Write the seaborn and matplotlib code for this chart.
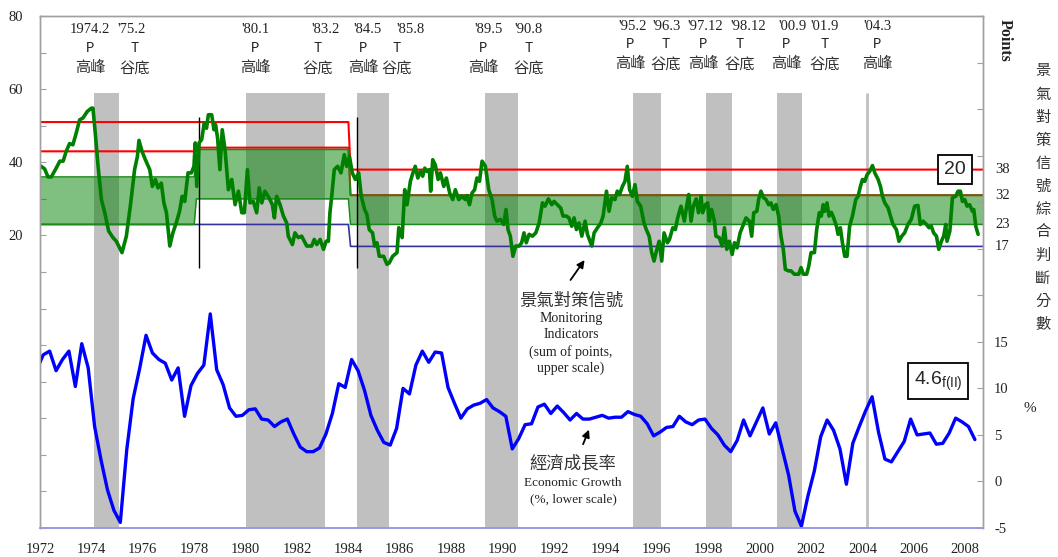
import numpy as np
import pandas as pd
import matplotlib
matplotlib.use("Agg")
import matplotlib.pyplot as plt
import matplotlib.transforms as mtransforms
import seaborn as sns

# ---------------- data ----------------
# Monitoring indicator (sum of points, upper/left scale): decimal year / value
mi_year = [
    1972.00, 1972.18, 1972.31, 1972.44, 1972.63, 1972.77, 1972.90, 1973.02, 1973.15, 1973.28,
    1973.41, 1973.54, 1973.67, 1973.84, 1974.00, 1974.06, 1974.15, 1974.26, 1974.39, 1974.52,
    1974.67, 1974.84, 1974.97, 1975.19, 1975.36, 1975.53, 1975.68, 1975.79, 1975.85, 1975.97,
    1976.10, 1976.27, 1976.37, 1976.49, 1976.59, 1976.72, 1976.82, 1976.92, 1977.05, 1977.17,
    1977.30, 1977.43, 1977.53, 1977.63, 1977.76, 1977.89, 1977.99, 1978.04, 1978.10, 1978.19,
    1978.29, 1978.39, 1978.48, 1978.55, 1978.68, 1978.77, 1978.83, 1978.91, 1979.00, 1979.09,
    1979.20, 1979.33, 1979.46, 1979.59, 1979.72, 1979.85, 1979.95, 1980.07, 1980.17, 1980.30,
    1980.43, 1980.53, 1980.63, 1980.75, 1980.91, 1981.04, 1981.12, 1981.21, 1981.34, 1981.47,
    1981.60, 1981.66, 1981.82, 1981.92, 1982.05, 1982.18, 1982.38, 1982.57, 1982.67, 1982.77,
    1982.90, 1983.03, 1983.13, 1983.22, 1983.28, 1983.35, 1983.45, 1983.58, 1983.71, 1983.84,
    1983.93, 1984.04, 1984.15, 1984.27, 1984.40, 1984.50, 1984.63, 1984.72, 1984.81, 1984.94,
    1985.02, 1985.11, 1985.20, 1985.37, 1985.50, 1985.59, 1985.72, 1985.89, 1985.96, 1986.09,
    1986.19, 1986.28, 1986.41, 1986.51, 1986.60, 1986.70, 1986.80, 1986.89, 1986.97, 1987.06,
    1987.15, 1987.20, 1987.28, 1987.38, 1987.49, 1987.58, 1987.71, 1987.81, 1987.94, 1988.06,
    1988.16, 1988.29, 1988.42, 1988.55, 1988.61, 1988.71, 1988.81, 1988.91, 1989.00, 1989.10,
    1989.20, 1989.33, 1989.46, 1989.59, 1989.69, 1989.78, 1989.91, 1990.04, 1990.13, 1990.21,
    1990.30, 1990.40, 1990.51, 1990.64, 1990.74, 1990.83, 1990.92, 1991.03, 1991.16, 1991.29,
    1991.42, 1991.55, 1991.65, 1991.78, 1991.91, 1992.00, 1992.13, 1992.26, 1992.35, 1992.48,
    1992.58, 1992.69, 1992.78, 1992.87, 1992.97, 1993.08, 1993.21, 1993.30, 1993.47, 1993.56,
    1993.69, 1993.82, 1993.91, 1994.04, 1994.14, 1994.24, 1994.37, 1994.46, 1994.55, 1994.66,
    1994.76, 1994.85, 1994.94, 1995.05, 1995.15, 1995.24, 1995.37, 1995.50, 1995.59, 1995.70,
    1995.80, 1995.89, 1996.00, 1996.09, 1996.19, 1996.28, 1996.41, 1996.49, 1996.62, 1996.72,
    1996.81, 1996.94, 1997.07, 1997.16, 1997.24, 1997.33, 1997.42, 1997.53, 1997.62, 1997.72,
    1997.78, 1997.89, 1997.98, 1998.04, 1998.13, 1998.24, 1998.30, 1998.43, 1998.54, 1998.63,
    1998.72, 1998.82, 1998.93, 1999.02, 1999.12, 1999.24, 1999.34, 1999.47, 1999.60, 1999.69,
    1999.77, 1999.89, 1999.96, 2000.05, 2000.15, 2000.25, 2000.35, 2000.44, 2000.53, 2000.64,
    2000.74, 2000.83, 2000.92, 2001.00, 2001.13, 2001.22, 2001.35, 2001.52, 2001.61, 2001.70,
    2001.83, 2001.91, 2002.00, 2002.13, 2002.22, 2002.32, 2002.40, 2002.47, 2002.53, 2002.62,
    2002.70, 2002.79, 2002.88, 2002.99, 2003.05, 2003.14, 2003.22, 2003.31, 2003.40, 2003.50,
    2003.61, 2003.74, 2003.83, 2003.92, 2004.00, 2004.09, 2004.18, 2004.28, 2004.39, 2004.48,
    2004.61, 2004.70, 2004.78, 2004.87, 2005.00, 2005.09, 2005.19, 2005.32, 2005.42, 2005.53,
    2005.64, 2005.77, 2005.90, 2006.03, 2006.16, 2006.25, 2006.36, 2006.49, 2006.59, 2006.68,
    2006.77, 2006.88, 2006.97, 2007.07, 2007.16, 2007.24, 2007.29, 2007.40, 2007.50, 2007.63,
    2007.72, 2007.81, 2007.89, 2007.98, 2008.07, 2008.17, 2008.28, 2008.33, 2008.41, 2008.50,
]
mi_value = [
    39.1, 38.2, 36.0, 36.0, 38.4, 40.3, 40.3, 43.0, 45.1, 44.8,
    48.0, 51.6, 52.1, 53.9, 54.8, 54.8, 48.0, 38.9, 29.8, 26.2,
    21.2, 19.4, 18.4, 15.3, 19.8, 28.9, 38.0, 41.6, 46.0, 43.0,
    40.7, 38.0, 33.4, 35.3, 33.0, 34.3, 28.9, 26.2, 17.1, 20.7,
    23.4, 26.6, 30.7, 29.3, 37.1, 37.1, 38.9, 45.3, 33.4, 45.3,
    46.2, 50.7, 49.3, 53.0, 53.0, 48.9, 50.3, 46.6, 38.0, 48.9,
    43.4, 32.5, 35.3, 28.4, 32.1, 26.2, 26.2, 38.0, 28.9, 29.3,
    26.2, 33.0, 28.9, 32.1, 30.3, 28.4, 24.8, 30.7, 28.4, 25.3,
    23.4, 19.8, 17.5, 20.7, 19.4, 19.8, 17.1, 17.1, 18.9, 17.5,
    18.9, 16.2, 18.4, 18.4, 26.2, 30.7, 38.0, 38.9, 37.1, 42.1,
    38.9, 41.6, 37.1, 35.3, 37.1, 30.7, 27.1, 25.7, 21.6, 20.7,
    17.1, 18.0, 14.3, 14.3, 12.1, 12.5, 14.3, 15.3, 22.1, 19.4,
    32.5, 28.4, 34.8, 37.1, 38.9, 35.7, 37.5, 36.2, 38.4, 37.5,
    38.0, 32.1, 40.7, 39.3, 35.3, 37.1, 33.4, 35.7, 31.6, 29.8,
    32.5, 29.8, 30.7, 29.8, 30.9, 28.4, 31.6, 32.5, 35.7, 34.8,
    40.3, 38.9, 32.5, 29.8, 25.3, 23.9, 24.4, 23.0, 27.1, 21.6,
    19.8, 14.3, 17.1, 17.1, 18.0, 20.7, 18.0, 20.3, 19.8, 20.7,
    23.4, 28.9, 28.0, 30.0, 28.4, 29.3, 28.4, 27.5, 25.3, 25.3,
    24.8, 22.5, 24.8, 21.6, 23.4, 19.8, 23.9, 20.3, 17.1, 20.7,
    22.1, 23.4, 25.3, 32.1, 26.6, 30.3, 29.8, 32.1, 31.2, 33.4,
    34.8, 38.9, 32.5, 30.7, 33.9, 29.3, 28.0, 23.4, 21.6, 19.8,
    15.3, 13.0, 16.2, 18.4, 13.0, 20.7, 18.0, 18.9, 22.1, 21.6,
    24.8, 28.0, 23.9, 28.0, 31.2, 23.9, 28.0, 30.0, 26.2, 30.7,
    26.2, 28.4, 28.9, 23.9, 27.1, 23.9, 19.8, 19.4, 17.1, 22.1,
    16.2, 18.4, 14.8, 18.0, 16.6, 20.7, 22.5, 24.8, 23.9, 19.8,
    26.2, 26.6, 29.8, 32.1, 30.3, 29.8, 28.4, 28.9, 27.1, 28.4,
    25.3, 19.8, 16.2, 10.7, 10.3, 10.3, 9.4, 9.4, 11.2, 9.4,
    9.4, 11.6, 15.3, 15.3, 21.6, 26.2, 25.3, 28.4, 26.6, 28.9,
    25.3, 26.3, 24.8, 22.5, 20.3, 22.1, 18.0, 14.3, 14.3, 22.5,
    25.3, 29.8, 30.7, 33.4, 35.3, 34.8, 36.6, 37.5, 39.1, 37.1,
    35.3, 33.4, 30.7, 28.9, 27.5, 25.3, 23.0, 21.6, 18.4, 19.8,
    20.7, 23.0, 24.4, 28.0, 28.2, 23.0, 23.9, 23.0, 22.1, 22.5,
    20.7, 19.8, 16.2, 18.4, 19.8, 23.0, 18.4, 21.2, 30.3, 30.7,
    32.1, 32.1, 29.3, 29.8, 28.0, 28.4, 26.6, 27.1, 22.5, 20.3,
]

# Quarterly economic growth (%, lower/right scale); first entry = 1971 Q4 (chart edge)
gdp_first_quarter = 1971.875
gdp_growth = [
    12.0,
    13.6, 14.0, 11.9, 13.1,   # 1972
    14.0, 10.2, 14.8, 12.2,   # 1973
    5.9, 2.3, -0.9, -3.1,     # 1974
    -4.4, 3.4, 8.9, 12.1,     # 1975
    15.7, 13.8, 13.1, 12.7,   # 1976
    10.9, 12.2, 7.0, 10.3,    # 1977
    11.6, 12.5, 18.0, 12.0,   # 1978
    10.4, 7.9, 7.0, 7.1,      # 1979
    7.7, 7.8, 6.7, 6.6,       # 1980
    5.9, 6.4, 6.7, 5.1,       # 1981
    3.7, 3.2, 3.2, 3.6,       # 1982
    5.1, 7.3, 10.5, 10.1,     # 1983
    13.1, 11.9, 9.8, 7.1,     # 1984
    5.5, 4.2, 3.9, 5.7,       # 1985
    10.0, 9.4, 12.5, 14.0,    # 1986
    12.8, 13.9, 13.8, 10.1,   # 1987
    8.4, 6.8, 7.8, 8.2,       # 1988
    8.4, 8.8, 7.9, 7.5,       # 1989
    7.0, 3.5, 4.6, 6.1,       # 1990
    6.2, 8.0, 8.3, 7.3,       # 1991
    8.1, 7.4, 6.6, 7.3,       # 1992
    6.7, 6.7, 6.9, 7.1,       # 1993
    6.8, 6.9, 6.9, 7.5,       # 1994
    7.2, 7.0, 6.2, 4.9,       # 1995
    5.3, 5.8, 5.9, 7.0,       # 1996
    6.4, 6.1, 6.6, 6.7,       # 1997
    5.7, 5.0, 3.9, 3.2,       # 1998
    4.4, 6.6, 4.9, 6.4,       # 1999
    7.9, 5.1, 6.3, 3.5,       # 2000
    0.7, -3.2, -4.8, -1.6,    # 2001
    1.1, 4.8, 6.6, 5.5,       # 2002
    3.5, -0.3, 4.1, 5.9,      # 2003
    7.6, 9.1, 5.3, 2.4,       # 2004
    2.1, 3.2, 4.3, 6.7,       # 2005
    5.0, 5.1, 5.2, 4.0,       # 2006
    4.1, 5.2, 6.8, 6.4,       # 2007
    5.9, 4.5,                 # 2008
]

# Business-cycle reference dates (decimal year)
cycle_peaks = [1974.083, 1980.000, 1984.333, 1989.333, 1995.083, 1997.917, 2000.667]
cycle_troughs = [1975.083, 1983.083, 1985.583, 1990.583, 1996.167, 1998.917, 2001.667]
latest_peak = 2004.167
turn_labels = ["1974.2", "'75.2", "'80.1", "'83.2", "'84.5", "'85.8", "'89.5", "'90.8",
               "'95.2", "'96.3", "'97.12", "'98.12", "'00.9", "'01.9", "'04.3"]
turn_kinds = ["P", "T", "P", "T", "P", "T", "P", "T", "P", "T", "P", "T", "P", "T", "P"]
kind_names = {"P": "高峰", "T": "谷底"}

# Signal threshold regimes
regime_start = [1972.0, 1978.0, 1984.0]
red_upper = [51, 51, 38]
red_lower = [43, 44, 31]
green_upper = [36, 43.5, 31]
green_lower = [23, 30, 23]
blue_line = [23, 23, 17]
revision_marks = [1978.2, 1984.33]
threshold_labels = ["38", "32", "23", "17"]
latest_score = "20"
latest_growth = "4.6"

# ---------------- layout constants ----------------
X_END = 2008.69
W, H = 1058, 557
date_x = [1973.95, 1975.58, 1980.37, 1983.09, 1984.76, 1986.40, 1989.47, 1990.99,
          1995.04, 1996.36, 1997.88, 1999.55, 2001.26, 2002.54, 2004.57]
kind_x = [1973.95, 1975.70, 1980.37, 1982.82, 1984.57, 1985.89, 1989.24, 1991.03,
          1994.96, 1996.36, 1997.80, 1999.24, 2001.03, 2002.54, 2004.57]

sns.set_style("white")
plt.rcParams["font.family"] = ["Liberation Serif", "Noto Sans CJK TC", "DejaVu Sans"]
SERIF = ["Liberation Serif", "DejaVu Serif"]
CJK = ["Noto Sans CJK TC", "DejaVu Sans"]

fig = plt.figure(figsize=(W / 100, H / 100), dpi=100)
ax = fig.add_axes([40 / W, 1 - 528 / H, (983 - 40) / W, (528 - 16) / H])
ax2 = ax.twinx()

# grey recession bands
band_top = (59 + 60) / 140
for p, t in zip(cycle_peaks, cycle_troughs):
    ax.axvspan(p, t, ymin=0, ymax=band_top, color="#c0c0c0", lw=0, zorder=0.5)
ax.vlines(latest_peak, -60, 59, color="#c0c0c0", lw=2, zorder=0.5)


def steps(vals):
    xs, ys = [], []
    for i, v in enumerate(vals):
        s = regime_start[i] + (1 / 12 if i > 0 else 0)
        e = regime_start[i + 1] if i + 1 < len(vals) else X_END
        xs += [s, e]
        ys += [v, v]
    return np.array(xs), np.array(ys)


xr, yr_hi = steps(red_upper)
_, yr_lo = steps(red_lower)
_, yg_hi = steps(green_upper)
_, yg_lo = steps(green_lower)
_, yb = steps(blue_line)

ax.plot(xr, yr_hi, color="#ff0000", lw=1.5, zorder=1)
ax.plot(xr, yr_lo, color="#ff0000", lw=1.5, zorder=1)
ax.plot(xr, yb, color="#333399", lw=1.2, zorder=1)
ax.fill_between(xr, yg_lo, yg_hi, color="#008000", alpha=0.5, lw=0, zorder=2)
ax.plot(xr, yg_hi, color="#1a8a1a", lw=1.1, zorder=2.1)
ax.plot(xr, yg_lo, color="#1a8a1a", lw=1.1, zorder=2.1)
ax.vlines(revision_marks, 11, 52.5, color="black", lw=1.0, zorder=2.5)

# monitoring indicator line
mi_df = pd.DataFrame({"year": mi_year, "points": mi_value})
sns.lineplot(data=mi_df, x="year", y="points", ax=ax, color="#008000", lw=2.6,
             estimator=None, sort=False, legend=False, zorder=3,
             solid_joinstyle="round")

# economic growth line
gdp_df = pd.DataFrame({"year": gdp_first_quarter + 0.25 * np.arange(len(gdp_growth)),
                       "growth": gdp_growth})
sns.lineplot(data=gdp_df, x="year", y="growth", ax=ax2, color="#0000ff", lw=2.4,
             estimator=None, sort=False, legend=False, solid_joinstyle="round")

# axes ranges & ticks
ax.set_xlim(1972.0, X_END)
ax.set_ylim(-60, 80)
ax2.set_ylim(-5, 50)
ax.set_xlabel("")
ax.set_ylabel("")
ax2.set_xlabel("")
ax2.set_ylabel("")

yt = np.arange(-60, 81, 10)
ax.set_yticks(yt)
ax.set_yticklabels([str(v) if (v >= 20 and v % 20 == 0) else "" for v in yt])
ax.tick_params(axis="y", direction="in", length=4, color="#a0a0a0", pad=12,
               labelsize=10.5, labelcolor="#222222")
yt2 = np.arange(-5, 51, 5)
ax2.set_yticks(yt2)
ax2.set_yticklabels([str(v) if v <= 15 else "" for v in yt2])
ax2.tick_params(axis="y", direction="in", length=4, color="#a0a0a0", pad=8,
                labelsize=10.5, labelcolor="#222222")
ax.set_xticks(np.arange(1972, 2009, 2))
ax.set_xticks(np.arange(1972, X_END, 0.25), minor=True)
ax.tick_params(axis="x", which="both", direction="in", length=4, color="#9999dd",
               pad=11, labelsize=10.5, labelcolor="#222222")
for a in (ax, ax2):
    for side in ("left", "right", "top"):
        a.spines[side].set_color("#a0a0a0")
        a.spines[side].set_linewidth(1.0)
    a.spines["bottom"].set_color("#9999dd")
    a.spines["bottom"].set_linewidth(1.2)
for lab in ax.get_xticklabels() + ax.get_yticklabels() + ax2.get_yticklabels():
    lab.set_family(SERIF)

# turning point labels
for i, (lab, kind) in enumerate(zip(turn_labels, turn_kinds)):
    late = i >= 8
    ax.text(date_x[i], 77.0 if late else 76.2, lab, ha="center", va="center",
            fontsize=10.5, family=SERIF, color="#222222")
    ax.text(kind_x[i], 72.4 if late else 71.3, kind, ha="center", va="center",
            fontsize=10, family=["Liberation Mono", "DejaVu Sans Mono"], color="#222222")
    ax.text(kind_x[i], 66.9 if late else 65.8, kind_names[kind], ha="center", va="center",
            fontsize=11, family=CJK, color="#333333")

# threshold labels at the right
trans = mtransforms.blended_transform_factory(ax.transAxes, ax.transData)
for lab, v in zip(threshold_labels, [red_upper[-1], red_lower[-1], green_lower[-1], blue_line[-1]]):
    ax.text(1 + 12 / 943, v, lab, transform=trans, ha="left", va="center",
            fontsize=10.5, family=SERIF, color="#222222", clip_on=False)

# value boxes
ax.text(2007.6, 38, latest_score, ha="center", va="center", fontsize=14,
        family=["Liberation Sans", "DejaVu Sans"], zorder=10,
        bbox=dict(boxstyle="square,pad=0.3", fc="white", ec="black", lw=1.3))
ax.text(2006.94, -19.8, latest_growth + r"$_{\mathregular{f(II)}}$", ha="center", va="center",
        fontsize=14, family=["Liberation Sans", "DejaVu Sans"], zorder=10,
        bbox=dict(boxstyle="square,pad=0.3", fc="white", ec="black", lw=1.3))

# series annotations
ax.text(1992.66, 2.0, "景氣對策信號", ha="center", va="center", fontsize=12.5,
        family=CJK, color="#333333")
ax.text(1992.66, -9.6, "Monitoring\nIndicators\n(sum of points,\nupper scale)",
        ha="center", va="center", fontsize=10, family=SERIF, color="#222222",
        linespacing=1.32)
ax.annotate("", xy=(1993.25, 13.9), xytext=(1992.58, 7.2),
            arrowprops=dict(arrowstyle="-|>", color="black", lw=1.3, mutation_scale=11))

ax.text(1992.74, -42.5, "經濟成長率", ha="center", va="center", fontsize=12.5,
        family=CJK, color="#333333")
ax.text(1992.74, -49.9, "Economic Growth\n(%, lower scale)", ha="center", va="center",
        fontsize=9.5, family=SERIF, color="#222222", linespacing=1.4)
ax.annotate("", xy=(1993.4, -32.4), xytext=(1993.09, -37.8),
            arrowprops=dict(arrowstyle="-|>", color="black", lw=1.3, mutation_scale=11))

# right-hand axis titles
fig.text(1005 / W, 1 - 40 / H, "Points", rotation=-90, ha="center", va="center",
         fontsize=11.5, weight="bold", family=SERIF, color="#222222")
for k, ch in enumerate("景氣對策信號綜合判斷分數"):
    fig.text(1043 / W, 1 - (71 + 23 * k) / H, ch, ha="center", va="center",
             fontsize=11, family=CJK, color="#333333")
fig.text(1030 / W, 1 - 408 / H, "%", ha="center", va="center", fontsize=11,
         family=SERIF, color="#222222")

fig.savefig("out.png", dpi=100)
